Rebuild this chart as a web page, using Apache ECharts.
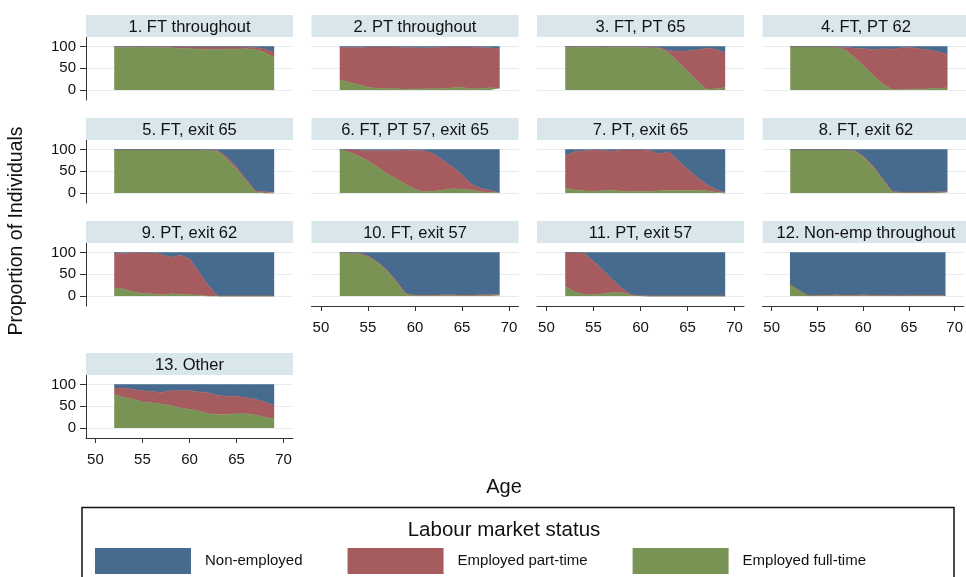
<!DOCTYPE html>
<html>
<head>
<meta charset="utf-8">
<title>Labour market status by age</title>
<script src="https://cdn.jsdelivr.net/npm/echarts@6/dist/echarts.min.js"></script>
<style>
html, body { margin: 0; padding: 0; background: #fff; }
#main { width: 966px; height: 577px; }
</style>
</head>
<body>
<div id="main"></div>
<script>
// ages with observations
var ages = [52, 53, 54, 55, 56, 57, 58, 59, 60, 61, 62, 63, 64, 65, 66, 67, 68, 69];
// full age axis, 49 to 71
var ageAxis = [49, 50, 51, 52, 53, 54, 55, 56, 57, 58, 59, 60, 61, 62, 63, 64, 65, 66, 67, 68, 69, 70, 71];
var xTicks = [50, 55, 60, 65, 70];
var yTicks = [0, 50, 100];

var panelTitles = [
    "1. FT throughout", "2. PT throughout", "3. FT, PT 65", "4. FT, PT 62",
    "5. FT, exit 65", "6. FT, PT 57, exit 65", "7. PT, exit 65", "8. FT, exit 62",
    "9. PT, exit 62", "10. FT, exit 57", "11. PT, exit 57", "12. Non-emp throughout",
    "13. Other"
];

// percent of individuals, one row per panel
var fullTime = [
    [98, 98, 98, 99, 98, 98, 97, 96, 95, 94, 93, 93, 94, 94, 95, 93, 86, 75],
    [24, 17, 12, 6, 4, 3, 3, 2, 2, 3, 3, 3, 5, 6, 3, 3, 5, 4],
    [98, 99, 98, 98, 99, 98, 98, 98, 98, 97, 96, 85, 64, 43, 21, 2, 3, 6],
    [99, 99, 99, 99, 99, 98, 92, 74, 54, 33, 14, 1, 1, 2, 2, 3, 4, 5],
    [99, 99, 99, 99, 99, 99, 99, 99, 99, 99, 98, 95, 77, 55, 28, 3, 0, 0],
    [100, 94, 85, 74, 60, 45, 32, 20, 8, 3, 4, 7, 10, 9, 7, 3, 1, 1],
    [11, 7, 5, 4, 5, 7, 4, 3, 4, 3, 5, 6, 6, 6, 6, 5, 2, 0],
    [99, 99, 99, 99, 99, 99, 99, 96, 80, 58, 30, 2, 1, 1, 1, 1, 1, 2],
    [19, 16, 10, 6, 5, 3, 5, 4, 3, 2, 0, 0, 0, 0, 0, 0, 0, 0],
    [99, 99, 97, 90, 77, 58, 33, 4, 1, 1, 1, 1, 1, 1, 1, 1, 1, 1],
    [22, 10, 3, 3, 5, 8, 8, 2, 1, 0, 0, 0, 0, 0, 0, 0, 0, 0],
    [27, 13, 1, 1, 1, 1, 1, 1, 1, 1, 1, 1, 1, 1, 1, 1, 1, 1],
    [77, 71, 66, 60, 58, 55, 52, 46, 43, 39, 33, 31, 31, 33, 33, 30, 25, 21]
];
var partTime = [
    [2, 2, 2, 1, 2, 2, 3, 4, 4, 5, 6, 6, 5, 5, 4, 5, 8, 12],
    [75, 81, 86, 93, 95, 96, 96, 96, 95, 94, 95, 96, 94, 93, 96, 95, 92, 91],
    [2, 1, 2, 2, 1, 2, 2, 2, 2, 2, 1, 6, 25, 47, 71, 94, 91, 80],
    [1, 1, 1, 1, 1, 1, 6, 22, 41, 60, 81, 93, 96, 96, 93, 89, 84, 77],
    [1, 1, 1, 1, 1, 1, 1, 1, 1, 1, 1, 3, 5, 5, 4, 2, 3, 2],
    [0, 6, 14, 23, 38, 52, 66, 79, 90, 94, 86, 68, 50, 33, 13, 8, 5, 0],
    [75, 88, 92, 95, 93, 89, 95, 96, 95, 95, 85, 89, 69, 49, 30, 15, 6, 1],
    [1, 1, 1, 1, 1, 1, 1, 2, 3, 3, 3, 2, 1, 1, 1, 1, 2, 1],
    [80, 82, 89, 94, 94, 93, 84, 90, 82, 53, 24, 0, 0, 0, 0, 0, 0, 0],
    [1, 1, 2, 2, 2, 2, 2, 2, 1, 1, 1, 2, 2, 1, 1, 2, 2, 2],
    [78, 90, 96, 77, 55, 30, 10, 1, 0, 0, 0, 0, 0, 0, 0, 0, 0, 0],
    [0, 0, 0, 1, 1, 2, 1, 1, 2, 1, 1, 1, 0, 1, 1, 1, 1, 0],
    [15, 21, 23, 26, 26, 27, 34, 40, 43, 44, 48, 44, 42, 40, 37, 36, 35, 31]
];
var nonEmployed = [
    [0, 0, 0, 0, 0, 0, 0, 0, 1, 1, 1, 1, 1, 1, 1, 2, 6, 13],
    [1, 2, 2, 1, 1, 1, 1, 2, 3, 3, 2, 1, 1, 1, 1, 2, 3, 5],
    [0, 0, 0, 0, 0, 0, 0, 0, 0, 1, 3, 9, 11, 10, 8, 4, 6, 14],
    [0, 0, 0, 0, 0, 1, 2, 4, 5, 7, 5, 6, 3, 2, 5, 8, 12, 18],
    [0, 0, 0, 0, 0, 0, 0, 0, 0, 0, 1, 2, 18, 40, 68, 95, 97, 98],
    [0, 0, 1, 3, 2, 3, 2, 1, 2, 3, 10, 25, 40, 58, 80, 89, 94, 99],
    [14, 5, 3, 1, 2, 4, 1, 1, 1, 2, 10, 5, 25, 45, 64, 80, 92, 99],
    [0, 0, 0, 0, 0, 0, 0, 2, 17, 39, 67, 96, 98, 98, 98, 98, 97, 97],
    [1, 2, 1, 0, 1, 4, 11, 6, 15, 45, 76, 100, 100, 100, 100, 100, 100, 100],
    [0, 0, 1, 8, 21, 40, 65, 94, 98, 98, 98, 97, 97, 98, 98, 97, 97, 97],
    [0, 0, 1, 20, 40, 62, 82, 97, 99, 100, 100, 100, 100, 100, 100, 100, 100, 100],
    [73, 87, 99, 98, 98, 97, 98, 98, 97, 98, 98, 98, 99, 98, 98, 98, 98, 99],
    [8, 8, 11, 14, 16, 18, 14, 14, 14, 17, 19, 25, 27, 27, 30, 34, 40, 48]
];

var statusNames = ["Non-employed", "Employed part-time", "Employed full-time"];
var colors = {ne: "#476b8e", pt: "#a65b5e", ft: "#789354"};
var font = '"Liberation Sans", Arial, Helvetica, sans-serif';

// panel layout (pixels)
var colLeft = [86, 311.5, 537, 762.5];
var rowTop = [15, 118, 221, 353];
var panelW = 207;
var stripH = 22;
var plotH = 63;

// put the values on the full age axis, empty elsewhere
function onAxis(values){
    var out = [];
    for(var k = 0; k < ageAxis.length; k++){
        out.push(null);
    }
    for(var m = 0; m < ages.length; m++){
        out[ageAxis.indexOf(ages[m])] = values[m];
    }
    return out;
}
function isTick(index, value){
    return xTicks.indexOf(Number(value)) >= 0;
}

var grids = [], xAxes = [], yAxes = [], series = [], graphics = [];

for(var i = 0; i < panelTitles.length; i++){
    var row = Math.floor(i / 4);
    var col = i % 4;
    var panelLeft = colLeft[col];
    var panelTop = rowTop[row];
    var firstCol = col === 0;
    var bottomRow = i >= 9;

    grids.push({left: panelLeft, top: panelTop + stripH, width: panelW, height: plotH});

    xAxes.push({
        type: "category", gridIndex: i, data: ageAxis, boundaryGap: false,
        show: bottomRow,
        axisLine: {onZero: false, lineStyle: {color: "#333", width: 1}},
        axisTick: {length: 5, interval: isTick, lineStyle: {color: "#333"}},
        axisLabel: {interval: isTick, fontSize: 15, color: "#111", margin: 14, fontFamily: font},
        splitLine: {show: false}
    });

    yAxes.push({
        type: "value", gridIndex: i, min: -23, max: 122,
        axisLine: {show: firstCol, onZero: false, lineStyle: {color: "#333", width: 1}},
        axisTick: {show: firstCol, length: 6, customValues: yTicks, lineStyle: {color: "#333"}},
        axisLabel: {show: firstCol, customValues: yTicks, fontSize: 15, color: "#111", margin: 10, fontFamily: font},
        splitLine: {show: true, lineStyle: {color: "#e8ecee", width: 1}}
    });

    // stacked from the bottom: full-time, part-time, non-employed
    var layers = [
        {name: statusNames[2], data: fullTime[i], color: colors.ft},
        {name: statusNames[1], data: partTime[i], color: colors.pt},
        {name: statusNames[0], data: nonEmployed[i], color: colors.ne}
    ];
    for(var j = 0; j < layers.length; j++){
        series.push({
            name: layers[j].name,
            type: "line",
            xAxisIndex: i, yAxisIndex: i,
            stack: "p" + i,
            data: onAxis(layers[j].data),
            showSymbol: false,
            color: layers[j].color,
            lineStyle: {width: 0.6, color: layers[j].color},
            areaStyle: {color: layers[j].color, opacity: 1}
        });
    }

    // strip with the panel title
    graphics.push({
        type: "rect", z: 1,
        shape: {x: panelLeft, y: panelTop, width: panelW, height: stripH},
        style: {fill: "#d9e6ec"}
    });
    graphics.push({
        type: "text", x: panelLeft + panelW / 2, y: panelTop + stripH / 2 + 1, z: 2,
        style: {text: panelTitles[i], font: "16.5px " + font, fill: "#111", align: "center", verticalAlign: "middle"}
    });
}

// axis titles
graphics.push({
    type: "text", x: 17, y: 231, rotation: Math.PI / 2,
    style: {text: "Proportion of Individuals", font: "19.5px " + font, fill: "#111", align: "center", verticalAlign: "middle"}
});
graphics.push({
    type: "text", x: 504, y: 487,
    style: {text: "Age", font: "20px " + font, fill: "#111", align: "center", verticalAlign: "middle"}
});
// legend box and its title
graphics.push({
    type: "rect", z: 0,
    shape: {x: 82, y: 507.5, width: 872, height: 90},
    style: {fill: "none", stroke: "#111", lineWidth: 1.5}
});
graphics.push({
    type: "text", x: 504, y: 530,
    style: {text: "Labour market status", font: "20.5px " + font, fill: "#111", align: "center", verticalAlign: "middle"}
});

var myChart = echarts.init(document.getElementById("main"), null, {renderer: "canvas"});
myChart.setOption({
    animation: false,
    backgroundColor: "#fff",
    textStyle: {fontFamily: font},
    legend: {
        data: statusNames,
        left: 95, top: 548, padding: 0,
        itemWidth: 96, itemHeight: 26, itemGap: 45,
        icon: "rect",
        selectedMode: false,
        textStyle: {fontSize: 15, color: "#111", fontFamily: font, padding: [0, 0, 0, 9]}
    },
    grid: grids,
    xAxis: xAxes,
    yAxis: yAxes,
    series: series,
    graphic: graphics
});
window.addEventListener("resize", function (){
    myChart.resize();
});
</script>
</body>
</html>
